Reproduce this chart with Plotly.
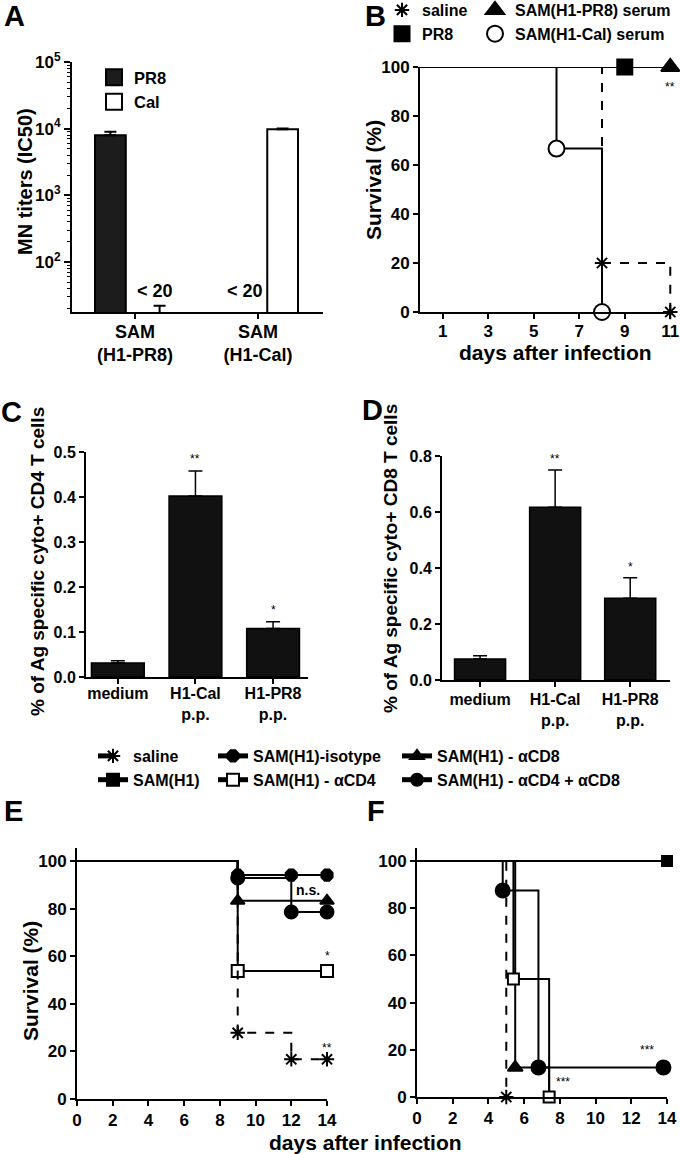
import plotly.graph_objects as go

W, H = 680, 1154
FONT = "Liberation Sans, Arial, sans-serif"

# ---------------- data ----------------
# Panel A: MN titers
a_groups = ["SAM<br>(H1-PR8)", "SAM<br>(H1-Cal)"]
a_pr8 = [8000, 10]
a_pr8_err = [1000, 0]
a_cal = [10, 9800]
a_cal_err = [12, 250]

# Panel B: survival after serum transfer
b_saline_days = [0, 8, 11]
b_saline_surv = [100, 20, 0]
b_saline_mk_days = [8, 11]
b_saline_mk_surv = [20, 0]
b_pr8_days = [0, 11]
b_pr8_surv = [100, 100]
b_pr8_mk_days = [9]
b_pr8_mk_surv = [100]
b_h1pr8_days = [0, 11]
b_h1pr8_surv = [100, 100]
b_h1pr8_mk_days = [11]
b_h1pr8_mk_surv = [100]
b_h1cal_days = [0, 6, 8]
b_h1cal_surv = [100, 66.7, 0]
b_h1cal_mk_days = [6, 8]
b_h1cal_mk_surv = [66.7, 0]
b_ticks = [1, 3, 5, 7, 9, 11]

# Panels C, D: T cell responses
cd_cats = ["medium", "H1-Cal<br>p.p.", "H1-PR8<br>p.p."]
c_vals = [0.031, 0.402, 0.108]
c_err = [0.005, 0.056, 0.015]
c_sig = ["", "**", "*"]
d_vals = [0.075, 0.617, 0.292]
d_err = [0.012, 0.133, 0.073]
d_sig = ["", "**", "*"]

# Panel E: survival
e_saline_days = [0, 9, 12, 14]
e_saline_surv = [100, 27.8, 16.7, 16.7]
e_iso_days = [0, 9, 12, 14]
e_iso_surv = [100, 94.1, 94.1, 94.1]
e_cd4cd8_days = [0, 9, 12, 14]
e_cd4cd8_surv = [100, 92.9, 78.6, 78.6]
e_cd8_days = [0, 9, 14]
e_cd8_surv = [100, 83.3, 83.3]
e_cd4_days = [0, 9, 14]
e_cd4_surv = [100, 53.8, 53.8]

# Panel F: survival
f_saline_days = [0, 5]
f_saline_surv = [100, 0]
f_sam_days = [0, 14]
f_sam_surv = [100, 100]
f_cd4cd8_days = [0, 4.8, 6.8, 13.8]
f_cd4cd8_surv = [100, 87.5, 12.5, 12.5]
f_cd8_days = [0, 5.5, 7.4]
f_cd8_surv = [100, 12.5, 0]
f_cd4_days = [0, 5.4, 7.4]
f_cd4_surv = [100, 50, 0]

surv_ticks = [0, 20, 40, 60, 80, 100]
ef_xticks = [0, 2, 4, 6, 8, 10, 12, 14]

# ---------------- helpers ----------------
def dx(a, b):
    return [a / W, b / W]

def dy(top, bottom):
    return [1 - bottom / H, 1 - top / H]

def tf(size):
    return dict(family=FONT, size=size, color="black", weight="bold")

AX = dict(showline=True, linecolor="black", linewidth=2, ticks="outside",
          ticklen=5, tickwidth=2, tickcolor="black", showgrid=False,
          zeroline=False, mirror=False, fixedrange=True)

fig = go.Figure()

# ---------------- Panel A ----------------
fig.add_trace(go.Bar(
    x=a_groups, y=a_pr8, name="PR8", width=0.25, offset=-0.325, showlegend=False,
    marker=dict(color="#1c1c1c", line=dict(color="black", width=2)),
    error_y=dict(type="data", array=a_pr8_err, arrayminus=[0, 0], symmetric=False,
                 color="black", thickness=2, width=6),
    xaxis="x", yaxis="y"))
fig.add_trace(go.Bar(
    x=a_groups, y=a_cal, name="Cal", width=0.25, offset=0.075, showlegend=False,
    marker=dict(color="white", line=dict(color="black", width=2)),
    error_y=dict(type="data", array=a_cal_err, arrayminus=[0, 0], symmetric=False,
                 color="black", thickness=2, width=6),
    xaxis="x", yaxis="y"))
# legend keys for panel A (no data points)
for nm, col, grp in [("PR8", "#1c1c1c", "a1"), ("Cal", "white", "a2")]:
    fig.add_trace(go.Scatter(x=[None], y=[None], mode="markers", name=nm,
                             marker=dict(symbol="square", size=16, color=col,
                                         line=dict(color="black", width=2)),
                             xaxis="x", yaxis="y", legend="legend", legendgroup=grp))

# ---------------- Panel B ----------------
def line_trace(xs, ys, ax, dash="solid", lw=2):
    return go.Scatter(x=xs, y=ys, mode="lines", line=dict(shape="hv", color="black", width=lw, dash=dash),
                      xaxis="x" + ax, yaxis="y" + ax, showlegend=False, cliponaxis=False, hoverinfo="skip")

def mk_trace(xs, ys, ax, name, symbol, size, fill="black", leg=None, group=None, show=True):
    return go.Scatter(x=xs, y=ys, mode="markers", name=name,
                      marker=dict(symbol=symbol, size=size, color=fill, opacity=1,
                                  line=dict(color="black", width=2)),
                      xaxis="x" + ax, yaxis="y" + ax, cliponaxis=False,
                      showlegend=show, legend=leg, legendgroup=group)

fig.add_trace(line_trace(b_saline_days, b_saline_surv, "2", dash="dash"))
fig.add_trace(line_trace(b_h1cal_days, b_h1cal_surv, "2"))
fig.add_trace(line_trace(b_pr8_days, b_pr8_surv, "2"))
fig.add_trace(line_trace(b_h1pr8_days, b_h1pr8_surv, "2"))
fig.add_trace(mk_trace(b_saline_mk_days, b_saline_mk_surv, "2", "saline", "asterisk-open", 12,
                       leg="legend2", group="b1"))
fig.add_trace(mk_trace(b_pr8_mk_days, b_pr8_mk_surv, "2", "PR8", "square", 15,
                       leg="legend2", group="b2"))
fig.add_trace(mk_trace(b_h1pr8_mk_days, b_h1pr8_mk_surv, "2", "SAM(H1-PR8) serum", "triangle-up", 16,
                       leg="legend3", group="b3"))
fig.add_trace(mk_trace(b_h1cal_mk_days, b_h1cal_mk_surv, "2", "SAM(H1-Cal) serum", "circle", 16,
                       fill="white", leg="legend3", group="b4"))

# ---------------- Panels C, D ----------------
for vals, errs, ax in [(c_vals, c_err, "3"), (d_vals, d_err, "4")]:
    fig.add_trace(go.Bar(
        x=cd_cats, y=vals, width=0.68, showlegend=False,
        marker=dict(color="#111111", line=dict(color="black", width=1.5)),
        error_y=dict(type="data", array=errs, arrayminus=[0] * len(errs), symmetric=False,
                     color="black", thickness=1.5, width=7),
        xaxis="x" + ax, yaxis="y" + ax))

# ---------------- Panels E, F ----------------
def surv_trace(xs, ys, ax, name, symbol, size, fill, dash, leg, group, show, rank=1000):
    sizes = [0] + [size] * (len(xs) - 1)
    return go.Scatter(x=xs, y=ys, mode="lines+markers", name=name,
                      line=dict(shape="hv", color="black", width=2, dash=dash),
                      marker=dict(symbol=symbol, size=sizes, color=fill, opacity=1,
                                  line=dict(color="black", width=2)),
                      xaxis="x" + ax, yaxis="y" + ax, cliponaxis=False,
                      showlegend=show, legend=leg, legendgroup=group, legendrank=rank)

fig.add_trace(surv_trace(e_cd4_days, e_cd4_surv, "5", "SAM(H1) - \u03b1CD4", "square", 12, "white", "solid", "legend5", "g4", True, 2))
fig.add_trace(surv_trace(e_cd8_days, e_cd8_surv, "5", "SAM(H1) - \u03b1CD8", "triangle-up", 12, "black", "solid", "legend6", "g5", True, 1))
fig.add_trace(surv_trace(e_cd4cd8_days, e_cd4cd8_surv, "5", "SAM(H1) - \u03b1CD4 + \u03b1CD8", "circle", 13, "black", "solid", "legend6", "g6", True, 2))
fig.add_trace(surv_trace(e_iso_days, e_iso_surv, "5", "SAM(H1)-isotype", "octagon", 12, "black", "solid", "legend5", "g3", True, 1))
fig.add_trace(surv_trace(e_saline_days, e_saline_surv, "5", "saline", "asterisk-open", 12, "black", "dash", "legend4", "g1", True, 1))

fig.add_trace(surv_trace(f_sam_days, f_sam_surv, "6", "SAM(H1)", "square", 10, "black", "solid", "legend4", "g2", True, 2))
fig.add_trace(surv_trace(f_cd4cd8_days, f_cd4cd8_surv, "6", "x", "circle", 14, "black", "solid", "legend6", "g6", False))
cd8 = surv_trace(f_cd8_days, f_cd8_surv, "6", "x", "triangle-up", 13, "black", "solid", "legend6", "g5", False)
cd8.marker.size = [0, 13, 0]
fig.add_trace(cd8)
fig.add_trace(surv_trace(f_cd4_days, f_cd4_surv, "6", "x", "square", 11, "white", "solid", "legend5", "g4", False))
fig.add_trace(surv_trace(f_saline_days, f_saline_surv, "6", "x", "asterisk-open", 12, "black", "dash", "legend4", "g1", False))

# ---------------- axes ----------------
minor_vals = [m * 10 ** e for e in range(1, 5) for m in range(2, 10)]
fig.update_layout(
    xaxis=dict(AX, domain=dx(72, 323), anchor="y", range=[-0.512, 1.528],
               tickfont=tf(18), ticklabelstandoff=-3),
    yaxis=dict(AX, domain=dy(62, 312), anchor="x", type="log", range=[1.25, 5],
               tickvals=[100, 1000, 10000, 100000],
               ticktext=["10<sup>2</sup>", "10<sup>3</sup>", "10<sup>4</sup>", "10<sup>5</sup>"],
               tickfont=tf(17), ticklen=6,
               minor=dict(tickmode="array", tickvals=minor_vals, ticks="outside", ticklen=3,
                          tickwidth=1, tickcolor="black")),
    xaxis2=dict(AX, domain=dx(420, 673), anchor="y2", range=[0, 11.12], tickvals=b_ticks,
                tickfont=tf(17), ticklabelstandoff=-2),
    yaxis2=dict(AX, domain=dy(67, 312), anchor="x2", range=[0, 100], tickvals=surv_ticks,
                tickfont=tf(17)),
    xaxis3=dict(AX, domain=dx(86, 308), anchor="y3", range=[-0.41, 2.45], tickfont=tf(16),
                ticklabelstandoff=-4),
    yaxis3=dict(AX, domain=dy(452, 677), anchor="x3", range=[0, 0.5],
                tickvals=[0, 0.1, 0.2, 0.3, 0.4, 0.5], tickformat=".1f", tickfont=tf(16)),
    xaxis4=dict(AX, domain=dx(442, 670), anchor="y4", range=[-0.507, 2.53], tickfont=tf(16),
                ticklabelstandoff=-1),
    yaxis4=dict(AX, domain=dy(456, 680), anchor="x4", range=[0, 0.8],
                tickvals=[0, 0.2, 0.4, 0.6, 0.8], tickformat=".1f", tickfont=tf(16)),
    xaxis5=dict(AX, domain=dx(77, 327), anchor="y5", range=[0, 14], tickvals=ef_xticks,
                tickfont=tf(17)),
    yaxis5=dict(AX, domain=dy(848, 1099), anchor="x5", range=[0, 105.5], tickvals=surv_ticks,
                tickfont=tf(17)),
    xaxis6=dict(AX, domain=dx(417, 667), anchor="y6", range=[0, 14], tickvals=ef_xticks,
                tickfont=tf(17)),
    yaxis6=dict(AX, domain=dy(848, 1097), anchor="x6", range=[0, 105.5], tickvals=surv_ticks,
                tickfont=tf(17)),
)

# ---------------- legends ----------------
def leg(xpx, ypx, size, gap, const=False):
    d = dict(x=xpx / W, y=1 - ypx / H, xanchor="left", yanchor="top",
             bgcolor="rgba(0,0,0,0)", borderwidth=0, font=tf(size),
             tracegroupgap=gap, itemclick=False, itemdoubleclick=False,
             traceorder="normal")
    if const:
        d["itemsizing"] = "constant"
    return d

fig.update_layout(
    legend=leg(94, 60, 16.5, 11),
    legend2=leg(382, -7, 16, 0),
    legend3=leg(475, -7, 16, 0),
    legend4=leg(93, 739, 16, 0, True),
    legend5=leg(213, 739, 16, 0, True),
    legend6=leg(397, 739, 16, 0, True),
)

# ---------------- annotations ----------------
ann = []

def paper_text(text, xpx, ypx, size, angle=0, bold=True):
    ann.append(dict(text=text, x=xpx / W, y=1 - ypx / H, xref="paper", yref="paper",
                    showarrow=False, textangle=angle, xanchor="center", yanchor="middle",
                    font=dict(family=FONT, size=size, color="black",
                              weight="bold" if bold else "normal")))

def data_text(text, x, y, ax, size, yanchor="bottom", bold=False):
    ann.append(dict(text=text, x=x, y=y, xref="x" + ax, yref="y" + ax, showarrow=False,
                    xanchor="center", yanchor=yanchor,
                    font=dict(family=FONT, size=size, color="black",
                              weight="bold" if bold else "normal")))

# panel letters
for letter, xp, yp in [("A", 14, 16), ("B", 375, 16), ("C", 11, 412), ("D", 372, 410),
                        ("E", 13, 811), ("F", 376, 811)]:
    paper_text(letter, xp, yp, 29)

# axis titles
paper_text("MN titers (IC50)", 25, 182, 20, angle=-90)
paper_text("Survival (%)", 373, 180, 21, angle=-90)
paper_text("days after infection", 555, 353, 21)
paper_text("% of Ag specific cyto+ CD4 T cells", 37, 562, 19, angle=-90)
paper_text("% of Ag specific cyto+ CD8 T cells", 390, 559, 19, angle=-90)
paper_text("Survival (%)", 30, 981, 21, angle=-90)
paper_text("days after infection", 365, 1142, 21)

# "< 20" labels in A
ann.append(dict(text="< 20", x=0.163, y=1.38, xref="x", yref="y", showarrow=False,
                xanchor="center", yanchor="bottom", font=tf(18)))
ann.append(dict(text="< 20", x=0.894, y=1.38, xref="x", yref="y", showarrow=False,
                xanchor="center", yanchor="bottom", font=tf(18)))

# significance marks C / D
for i, s in enumerate(c_sig):
    if s:
        data_text(s, i, c_vals[i] + c_err[i] + 0.006, "3", 12)
for i, s in enumerate(d_sig):
    if s:
        data_text(s, i, d_vals[i] + d_err[i] + 0.008, "4", 12)

# significance marks B, E, F
data_text("**", 11, 92, "2", 12, yanchor="middle")
data_text("n.s.", 12.95, 88, "5", 14, yanchor="middle", bold=True)
data_text("*", 14, 60, "5", 12, yanchor="middle")
data_text("**", 14, 21.5, "5", 12, yanchor="middle")
data_text("***", 12.9, 20, "6", 12, yanchor="middle")
data_text("***", 8.2, 6.5, "6", 12, yanchor="middle")

fig.update_layout(
    annotations=ann,
    width=W, height=H,
    margin=dict(l=0, r=0, t=0, b=0, autoexpand=False),
    paper_bgcolor="white", plot_bgcolor="white",
    barmode="overlay",
    font=dict(family=FONT, color="black"),
    hovermode=False,
)

fig.write_html("out.html", config={"displayModeBar": False, "staticPlot": False},
               post_script="document.body.style.margin='0';document.body.style.overflow='hidden';")
